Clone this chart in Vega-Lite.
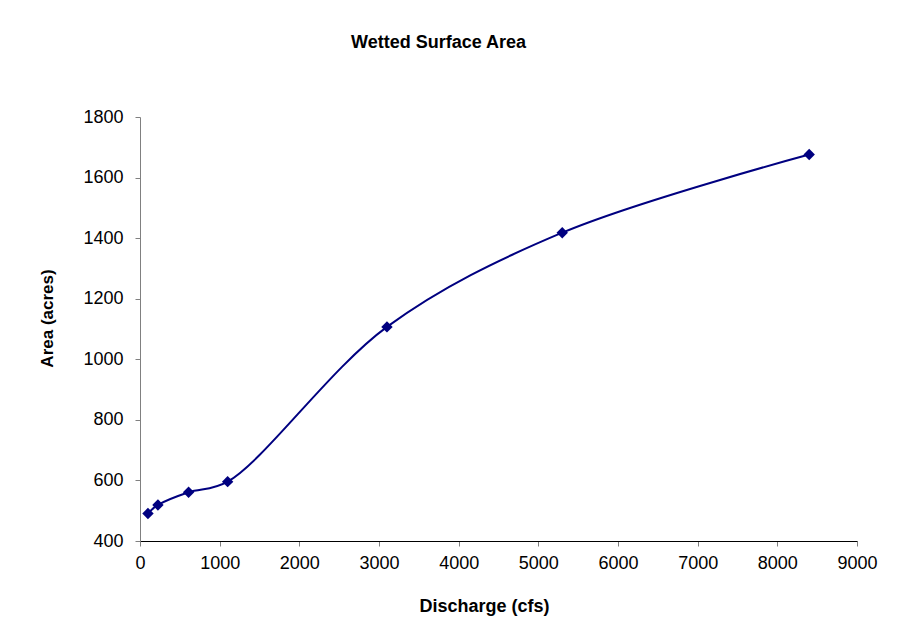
{
  "$schema": "https://vega.github.io/schema/vega-lite/v6.json",
  "autosize": {"type": "none"},
  "padding": {"left": 140, "top": 117, "right": 43, "bottom": 102},
  "width": 717,
  "height": 424,
  "background": "white",
  "title": {
    "text": "Wetted Surface Area",
    "anchor": "middle",
    "frame": "group",
    "dx": -60,
    "baseline": "alphabetic",
    "offset": 42,
    "font": "Liberation Sans",
    "fontSize": 18,
    "fontWeight": "bold",
    "color": "black"
  },
  "data": {
    "values": [
      {"discharge": 100, "area": 491},
      {"discharge": 225, "area": 519},
      {"discharge": 610, "area": 561},
      {"discharge": 1100, "area": 596},
      {"discharge": 3100, "area": 1107},
      {"discharge": 5300, "area": 1418},
      {"discharge": 8400, "area": 1676}
    ]
  },
  "encoding": {
    "x": {
      "field": "discharge",
      "type": "quantitative",
      "scale": {"domain": [0, 9000], "nice": false, "zero": false},
      "axis": {
        "title": "Discharge (cfs)",
        "values": [0, 1000, 2000, 3000, 4000, 5000, 6000, 7000, 8000, 9000],
        "format": "d",
        "grid": false,
        "domainColor": "black",
        "domainWidth": 1,
        "tickColor": "#808080",
        "tickSize": 5,
        "labelPadding": 8,
        "labelFont": "Liberation Sans",
        "labelFontSize": 18,
        "labelColor": "black",
        "labelFlush": false,
        "labelOverlap": false,
        "titleFont": "Liberation Sans",
        "titleFontSize": 18,
        "titleFontWeight": "bold",
        "titleColor": "black",
        "titleX": 344,
        "titleY": 56,
        "titleAlign": "center",
        "titleBaseline": "top"
      }
    },
    "y": {
      "field": "area",
      "type": "quantitative",
      "scale": {"domain": [400, 1800], "nice": false, "zero": false},
      "axis": {
        "title": "Area (acres)",
        "values": [400, 600, 800, 1000, 1200, 1400, 1600, 1800],
        "format": "d",
        "grid": false,
        "domainColor": "#808080",
        "domainWidth": 1,
        "tickColor": "#808080",
        "tickSize": 5,
        "labelPadding": 12,
        "labelFont": "Liberation Sans",
        "labelFontSize": 18,
        "labelColor": "black",
        "labelFlush": false,
        "labelOverlap": false,
        "titleFont": "Liberation Sans",
        "titleFontSize": 17,
        "titleFontWeight": "bold",
        "titleColor": "black",
        "titleAngle": -90,
        "titleX": -93,
        "titleY": 201,
        "titleAlign": "center",
        "titleBaseline": "middle"
      }
    }
  },
  "layer": [
    {
      "mark": {"type": "line", "interpolate": "catmull-rom", "color": "#000080", "strokeWidth": 2}
    },
    {
      "mark": {"type": "point", "shape": "diamond", "filled": true, "size": 130, "color": "#000080", "opacity": 1}
    }
  ],
  "config": {"view": {"stroke": null}}
}
